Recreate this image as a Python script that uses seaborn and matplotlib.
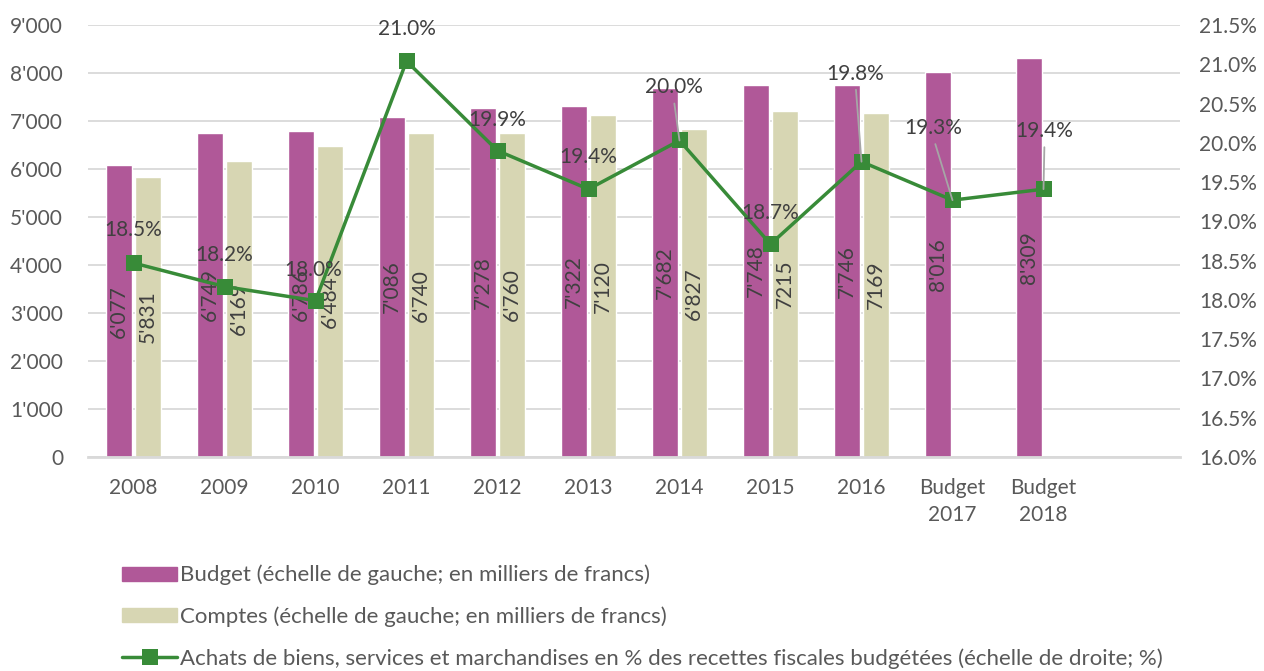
import matplotlib
matplotlib.use('Agg')
import matplotlib.pyplot as plt
import matplotlib.patches as mpatches
import matplotlib.lines as mlines
from matplotlib.ticker import FuncFormatter, MultipleLocator
import seaborn as sns
import pandas as pd

# data
categories = ['2008', '2009', '2010', '2011', '2012', '2013', '2014', '2015', '2016',
              'Budget\n2017', 'Budget\n2018', '']
budget = [6077, 6749, 6786, 7086, 7278, 7322, 7682, 7748, 7746, 8016, 8309]
comptes = [5831, 6169, 6484, 6740, 6760, 7120, 6827, 7215, 7169]
budget_labels = ["6'077", "6'749", "6'786", "7'086", "7'278", "7'322", "7'682", "7'748",
                 "7'746", "8'016", "8'309"]
comptes_labels = ["5'831", "6'169", "6'484", "6'740", "6'760", "7'120", "6'827", "7215", "7169"]
pct = [18.47, 18.17, 17.99, 21.04, 19.90, 19.41, 20.03, 18.71, 19.76, 19.27, 19.41]
pct_labels = ['18.5%', '18.2%', '18.0%', '21.0%', '19.9%', '19.4%', '20.0%', '18.7%',
              '19.8%', '19.3%', '19.4%']
# label offsets in pixels (dx, dy) and whether a leader line is drawn
label_offsets = [(0, 33), (0, 32), (-2, 31), (0, 32), (0, 31), (0, 32), (-6, 53),
                 (0, 31), (-6, 88), (-19, 72), (1, 58)]
leaders = [False, False, False, False, False, False, True, False, True, True, True]

legend_labels = ['Budget (échelle de gauche; en milliers de francs)',
                 'Comptes (échelle de gauche; en milliers de francs)',
                 'Achats de biens, services et marchandises en % des recettes fiscales budgétées (échelle de droite; %)']

c_budget = '#B05898'
c_comptes = '#D7D6B3'
c_line = '#388B38'
c_text = '#404040'
c_tick = '#595959'
c_grid = '#D9D9D9'

sns.set_theme(style='white')
plt.rcParams['font.family'] = ['Lato', 'DejaVu Sans']

rows = []
for cat, v in zip(categories, budget):
    rows.append({'cat': cat, 'serie': 'Budget', 'val': v})
for cat, v in zip(categories, comptes):
    rows.append({'cat': cat, 'serie': 'Comptes', 'val': v})
df = pd.DataFrame(rows)

fig = plt.figure(figsize=(12.64, 6.71), dpi=100)
ax = fig.add_axes([88 / 1264, 1 - 457 / 671, (1180 - 88) / 1264, (457 - 25) / 671])

sns.barplot(data=df, x='cat', y='val', hue='serie', order=categories,
            hue_order=['Budget', 'Comptes'], palette=[c_budget, c_comptes],
            width=0.65, gap=0.12, saturation=1, legend=False, ax=ax)

ax.bar_label(ax.containers[0], labels=budget_labels, label_type='center', rotation=90,
             fontsize=15, color=c_text)
ax.bar_label(ax.containers[1], labels=comptes_labels, label_type='center', rotation=90,
             fontsize=15, color=c_text)

ax.set_ylim(0, 9000)
ax.set_xlim(-0.5, len(categories) - 0.5)
ax.yaxis.set_major_locator(MultipleLocator(1000))
ax.yaxis.set_major_formatter(FuncFormatter(lambda v, p: f"{int(v):,}".replace(',', "'")))
ax.grid(axis='y', color=c_grid, lw=1.3)
ax.set_axisbelow(True)
for s in ['top', 'right', 'left']:
    ax.spines[s].set_visible(False)
ax.spines['bottom'].set_color(c_grid)
ax.spines['bottom'].set_linewidth(2)
ax.set_xlabel('')
ax.set_ylabel('')
ax.tick_params(axis='y', length=0, pad=18, labelsize=15, labelcolor=c_tick)
ax.tick_params(axis='x', length=0, pad=15, labelsize=15, labelcolor=c_tick)
for t in ax.get_xticklabels():
    t.set_linespacing(1.45)

ax2 = ax.twinx()
xpos = list(range(len(pct)))
sns.lineplot(x=xpos, y=pct, color=c_line, lw=2.5, marker='s', markersize=11,
             markeredgewidth=0, ax=ax2)
ax2.set_ylim(16, 21.5)
ax2.yaxis.set_major_locator(MultipleLocator(0.5))
ax2.yaxis.set_major_formatter(FuncFormatter(lambda v, p: f"{v:.1f}%"))
ax2.tick_params(axis='y', length=0, pad=14, labelsize=15, labelcolor=c_tick)
for s in ax2.spines.values():
    s.set_visible(False)
ax2.grid(False)

for i, (v, lab) in enumerate(zip(pct, pct_labels)):
    dx, dy = label_offsets[i]
    kw = {}
    if leaders[i]:
        kw['arrowprops'] = dict(arrowstyle='-', color='#A6A6A6', lw=1.3,
                                shrinkA=2, shrinkB=0, relpos=(0.5, 0))
    ax2.annotate(lab, xy=(i, v), xytext=(dx, dy), textcoords='offset pixels',
                 ha='center', va='center', fontsize=15, color=c_text, **kw)

handles = [mpatches.Patch(color=c_budget), mpatches.Patch(color=c_comptes),
           mlines.Line2D([], [], color=c_line, lw=2.5, marker='s', markersize=11,
                         markeredgewidth=0)]
fig.legend(handles, legend_labels, loc='upper left', bbox_to_anchor=(113 / 1264, 1 - 556 / 671),
           frameon=False, fontsize=16, labelcolor=c_tick, handlelength=2.5,
           handleheight=0.6, handletextpad=0.1, labelspacing=0.95, borderaxespad=0)

fig.savefig('out.png', dpi=100)
